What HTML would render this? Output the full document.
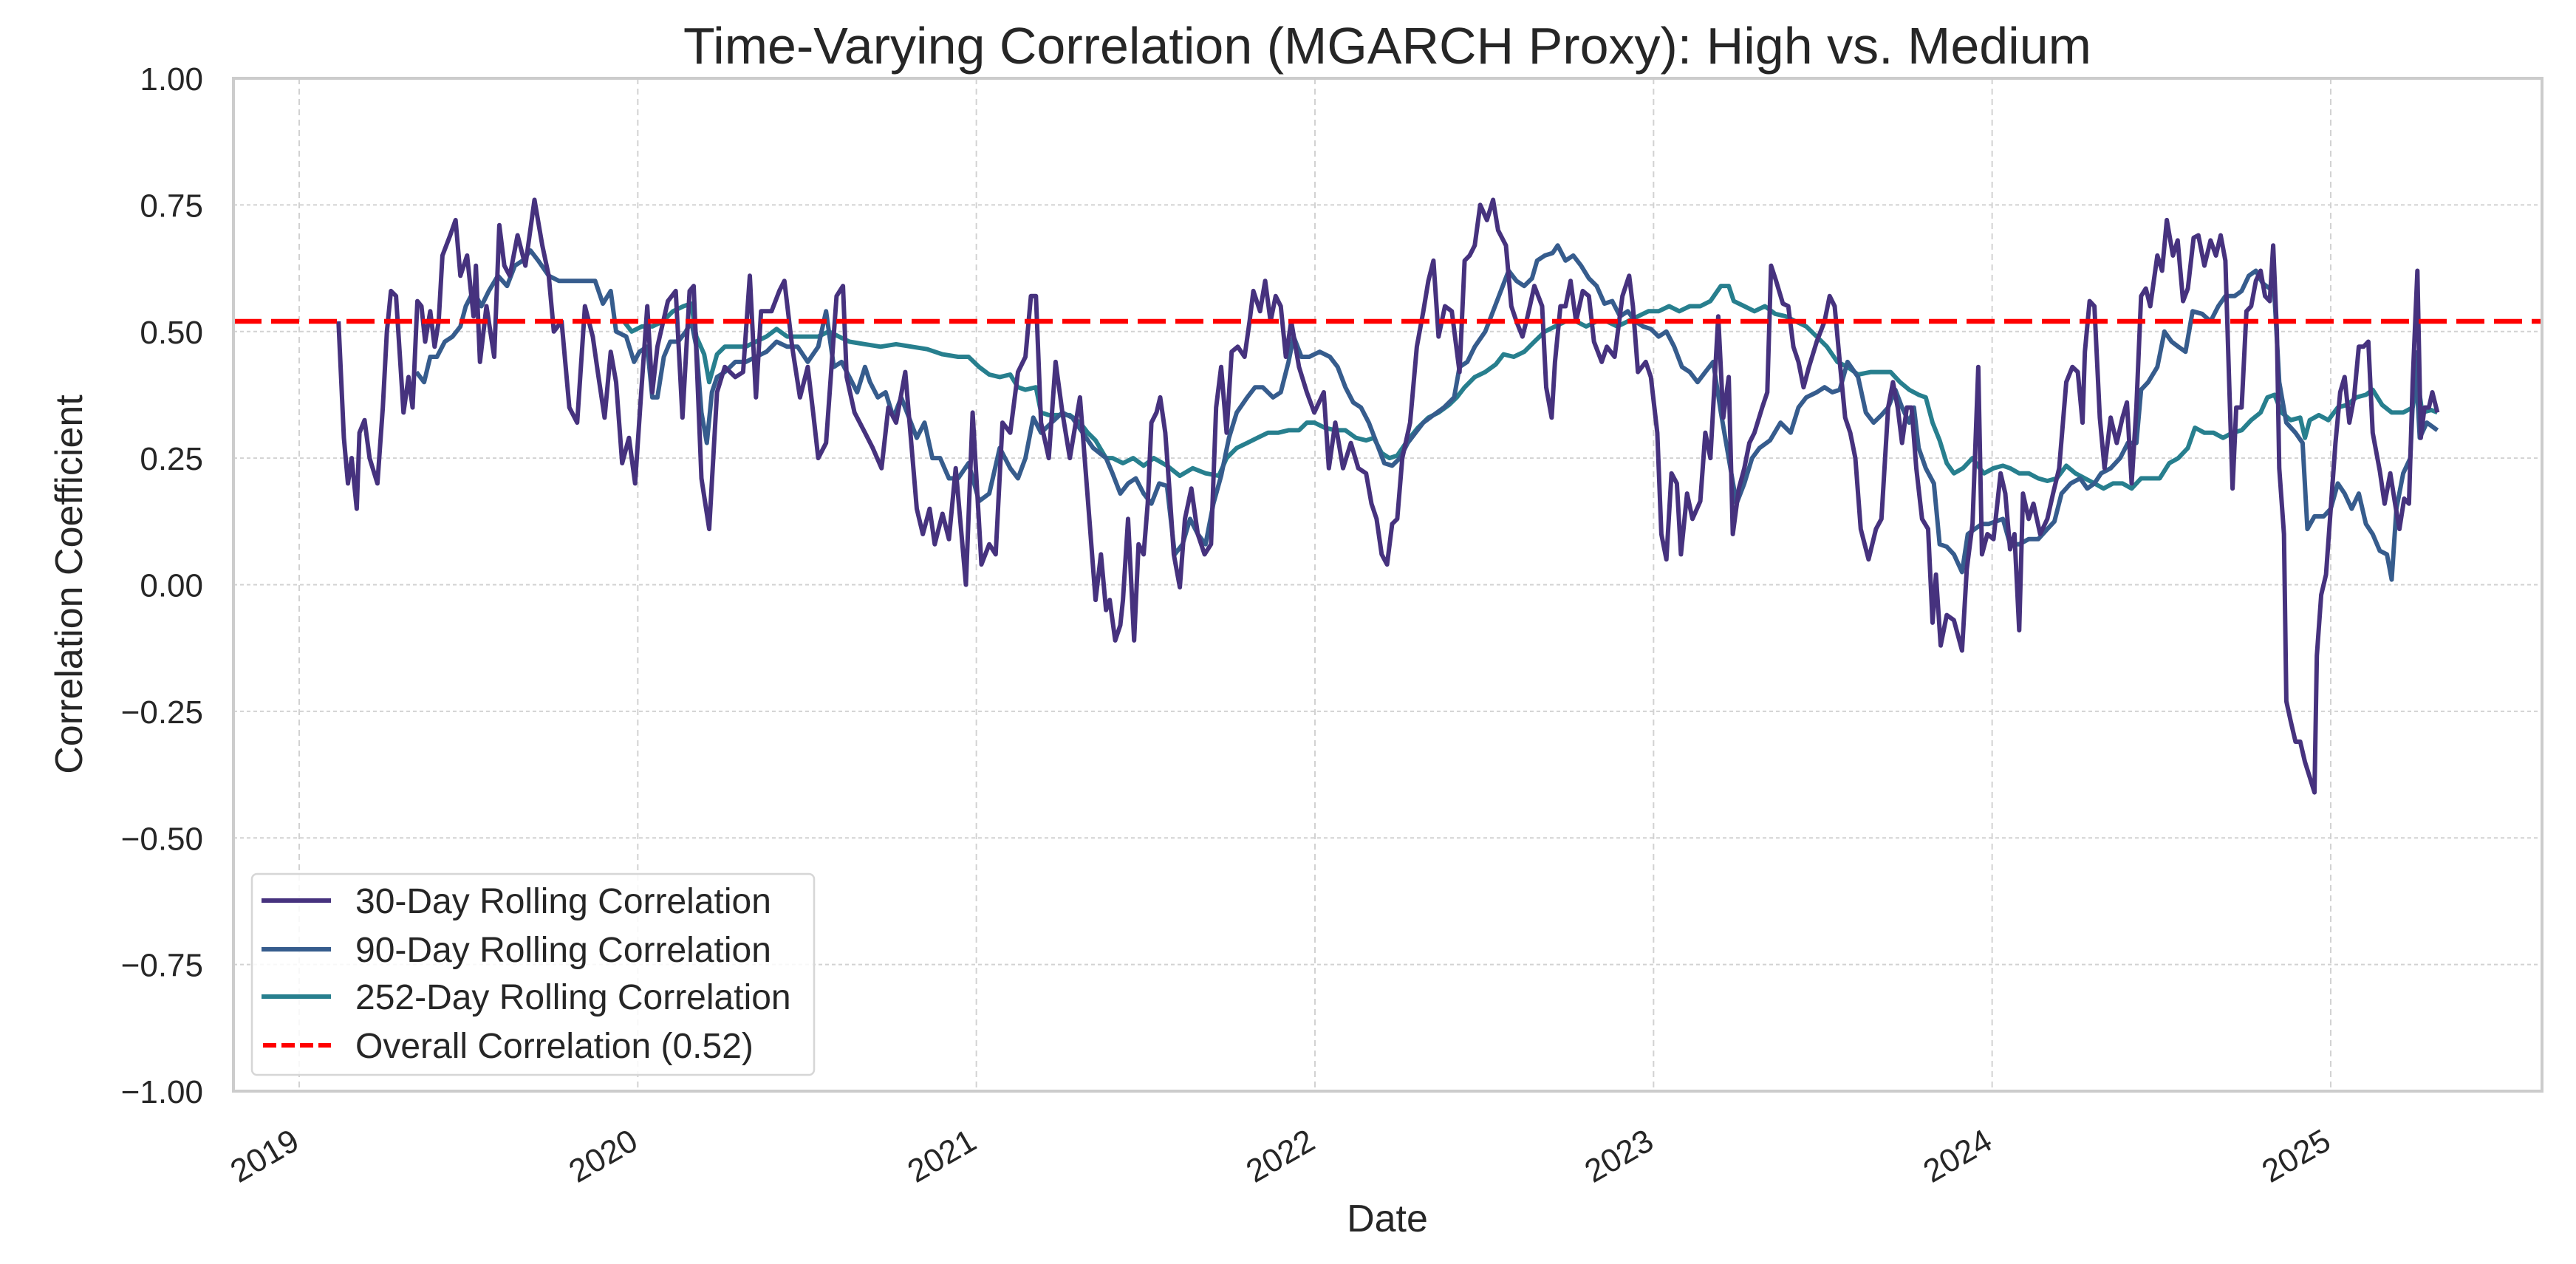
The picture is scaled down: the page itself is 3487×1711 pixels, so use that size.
<!DOCTYPE html>
<html><head><meta charset="utf-8">
<style>
html,body{margin:0;padding:0;background:#fff;}
svg{display:block;font-family:"Liberation Sans","DejaVu Sans",sans-serif;}
</style></head>
<body>
<svg id="chart" width="3487" height="1711" viewBox="0 0 3487 1711" xmlns="http://www.w3.org/2000/svg">
<rect x="0" y="0" width="3487" height="1711" fill="#ffffff"/>
<text x="1878" y="86" text-anchor="middle" font-size="70" fill="#262626">Time-Varying Correlation (MGARCH Proxy): High vs. Medium</text>
<g id="grid"></g>
<g id="yticks"></g>
<g id="xticks"></g>
<g id="series"></g>
<rect x="316" y="106" width="3125" height="1371" fill="none" stroke="#cccccc" stroke-width="4"/>
<text transform="translate(111,791) rotate(-90)" text-anchor="middle" font-size="52" fill="#262626">Correlation Coefficient</text>
<text x="1878" y="1667" text-anchor="middle" font-size="52" fill="#262626">Date</text>
<g>
<rect x="341" y="1183" width="761" height="272" rx="7" fill="#ffffff" fill-opacity="0.85" stroke="#d6d6d6" stroke-width="2.5"/>
<g>
<line x1="354" y1="1219" x2="448" y2="1219" stroke="#46327e" stroke-width="6"/>
<text x="481" y="1236" font-size="48" fill="#262626">30-Day Rolling Correlation</text></g>
<g>
<line x1="354" y1="1285" x2="448" y2="1285" stroke="#365c8d" stroke-width="6"/>
<text x="481" y="1302" font-size="48" fill="#262626">90-Day Rolling Correlation</text></g>
<g>
<line x1="354" y1="1349" x2="448" y2="1349" stroke="#277f8e" stroke-width="6"/>
<text x="481" y="1366" font-size="48" fill="#262626">252-Day Rolling Correlation</text></g>
<g>
<line x1="356" y1="1415" x2="448" y2="1415" stroke="#ff0000" stroke-width="6" stroke-dasharray="18,7"/>
<text x="481" y="1432" font-size="48" fill="#262626">Overall Correlation (0.52)</text></g>
</g>
</svg>
<script>
// Time values are years elapsed since 2019-01-01
const yTickValues = [1.00, 0.75, 0.50, 0.25, 0.00, -0.25, -0.50, -0.75, -1.00];
const yTickLabels = ["1.00","0.75","0.50","0.25","0.00","\u22120.25","\u22120.50","\u22120.75","\u22121.00"];
const xTickYears = [0,1,2,3,4,5,6];
const xTickLabels = ["2019","2020","2021","2022","2023","2024","2025"];
const overallCorr = 0.52;

const t30 = [0.116,0.132,0.144,0.155,0.170,0.178,0.193,0.208,0.231,0.247,0.259,0.271,0.286,0.308,0.323,0.335,0.349,0.361,0.372,0.387,0.400,0.412,0.423,0.446,0.462,0.476,0.496,0.515,0.522,0.534,0.553,0.576,0.591,0.606,0.622,0.645,0.668,0.695,0.718,0.737,0.752,0.775,0.798,0.821,0.844,0.867,0.882,0.902,0.920,0.936,0.954,0.974,0.992,1.009,1.028,1.043,1.058,1.089,1.112,1.132,1.153,1.165,1.188,1.211,1.234,1.257,1.288,1.311,1.331,1.349,1.364,1.395,1.418,1.433,1.456,1.479,1.502,1.518,1.533,1.556,1.587,1.606,1.617,1.640,1.671,1.694,1.720,1.740,1.763,1.790,1.809,1.824,1.842,1.862,1.877,1.900,1.919,1.939,1.969,1.989,2.015,2.038,2.057,2.077,2.100,2.123,2.145,2.161,2.176,2.191,2.214,2.234,2.254,2.276,2.306,2.329,2.352,2.368,2.383,
2.394,2.410,2.425,2.433,2.448,2.466,2.479,2.494,2.506,2.517,2.532,2.543,2.558,2.570,2.583,2.601,2.616,2.635,2.654,2.674,2.693,2.708,2.723,2.739,2.754,2.772,2.792,2.807,2.818,2.838,2.853,2.869,2.884,2.899,2.914,2.930,2.953,2.976,2.998,3.026,3.041,3.060,3.083,3.106,3.128,3.151,3.167,3.182,3.197,3.213,3.228,3.243,3.258,3.281,3.301,3.320,3.335,3.350,3.365,3.384,3.404,3.427,3.442,3.457,3.472,3.488,3.508,3.526,3.541,3.564,3.580,3.595,3.613,3.628,3.648,3.671,3.683,3.699,3.709,3.725,3.740,3.755,3.771,3.791,3.809,3.824,3.847,3.862,3.885,3.908,3.928,3.939,3.954,3.977,3.992,4.011,4.023,4.038,4.053,4.069,4.081,4.099,4.115,4.138,4.153,4.168,4.191,4.206,4.222,4.234,4.252,4.268,4.283,4.298,4.321,4.336,4.347,4.362,4.382,4.398,4.413,4.428,4.443,4.459,4.482,4.505,4.520,4.535,4.550,4.566,4.581,4.596,4.612,4.635,4.657,4.673,
4.693,4.707,4.721,4.734,4.748,4.762,4.776,4.793,4.811,4.824,4.834,4.848,4.866,4.887,4.911,4.925,4.942,4.959,4.970,4.986,5.004,5.025,5.039,5.053,5.066,5.080,5.091,5.108,5.122,5.142,5.163,5.180,5.198,5.219,5.237,5.253,5.267,5.274,5.288,5.302,5.318,5.332,5.350,5.368,5.385,5.398,5.412,5.426,5.440,5.454,5.467,5.488,5.502,5.516,5.534,5.548,5.564,5.578,5.595,5.609,5.627,5.645,5.661,5.675,5.689,5.700,5.710,5.721,5.737,5.751,5.765,5.779,5.793,5.806,5.820,5.830,5.841,5.848,5.862,5.869,5.882,5.896,5.910,5.924,5.938,5.952,5.959,5.972,5.986,6.000,6.014,6.028,6.041,6.055,6.069,6.083,6.097,6.111,6.124,6.145,6.159,6.176,6.190,6.203,6.217,6.231,6.242,6.256,6.266,6.277,6.290,6.300,6.315];
const v30 = [0.52,0.29,0.20,0.25,0.15,0.30,0.325,0.25,0.20,0.35,0.50,0.58,0.57,0.34,0.41,0.35,0.56,0.55,0.48,0.54,0.47,0.52,0.65,0.69,0.72,0.61,0.65,0.53,0.63,0.44,0.55,0.45,0.71,0.63,0.61,0.69,0.63,0.76,0.67,0.61,0.50,0.52,0.35,0.32,0.55,0.49,0.42,0.33,0.46,0.40,0.24,0.29,0.20,0.37,0.55,0.38,0.47,0.56,0.58,0.33,0.58,0.59,0.21,0.11,0.38,0.43,0.41,0.42,0.61,0.37,0.54,0.54,0.58,0.60,0.47,0.37,0.43,0.34,0.25,0.28,0.57,0.59,0.41,0.34,0.30,0.27,0.23,0.35,0.32,0.42,0.27,0.15,0.10,0.15,0.08,0.14,0.09,0.23,0.00,0.34,0.04,0.08,0.06,0.32,0.30,0.42,0.45,0.57,0.57,0.32,0.25,0.44,0.34,0.25,0.37,0.17,-0.03,0.06,-0.05,
-0.03,-0.11,-0.08,-0.03,0.13,-0.11,0.08,0.06,0.16,0.32,0.34,0.37,0.30,0.19,0.06,-0.005,0.13,0.19,0.10,0.06,0.08,0.35,0.43,0.30,0.46,0.47,0.45,0.52,0.58,0.54,0.60,0.52,0.57,0.55,0.45,0.52,0.43,0.38,0.34,0.38,0.23,0.32,0.23,0.28,0.23,0.22,0.16,0.13,0.06,0.04,0.12,0.13,0.25,0.32,0.47,0.54,0.60,0.64,0.49,0.55,0.54,0.42,0.64,0.65,0.67,0.75,0.72,0.76,0.70,0.67,0.55,0.52,0.49,0.53,0.59,0.55,0.39,0.33,0.44,0.55,0.55,0.60,0.52,0.58,0.57,0.48,0.44,0.47,0.45,0.57,0.61,0.55,0.42,0.44,0.41,0.30,0.10,0.05,0.22,0.20,0.06,0.18,0.13,0.165,0.30,0.25,0.53,0.33,0.41,0.10,0.19,0.23,0.28,0.30,0.35,0.38,0.63,0.60,0.555,0.55,0.47,0.44,0.39,0.43,0.48,0.52,0.57,0.55,0.44,0.33,0.30,0.25,0.11,0.05,0.11,0.13,
0.35,0.40,0.35,0.28,0.35,0.35,0.23,0.13,0.11,-0.075,0.02,-0.12,-0.06,-0.07,-0.13,0.03,0.12,0.43,0.06,0.10,0.09,0.22,0.18,0.07,0.10,-0.09,0.18,0.13,0.16,0.10,0.13,0.18,0.23,0.40,0.43,0.42,0.32,0.46,0.56,0.55,0.33,0.23,0.33,0.28,0.33,0.36,0.20,0.35,0.57,0.585,0.55,0.65,0.62,0.72,0.65,0.68,0.56,0.585,0.685,0.69,0.63,0.68,0.65,0.69,0.64,0.40,0.19,0.35,0.35,0.54,0.55,0.60,0.62,0.57,0.56,0.67,0.50,0.23,0.10,-0.23,-0.27,-0.31,-0.31,-0.35,-0.38,-0.41,-0.14,-0.02,0.02,0.15,0.28,0.38,0.41,0.32,0.37,0.47,0.47,0.48,0.30,0.225,0.16,0.22,0.16,0.11,0.17,0.16,0.40,0.62,0.29,0.35,0.35,0.38,0.34];

const t90 = [0.346,0.369,0.387,0.407,0.430,0.453,0.476,0.492,0.515,0.538,0.560,0.587,0.614,0.637,0.660,0.683,0.706,0.737,0.767,0.798,0.844,0.874,0.897,0.920,0.936,0.966,0.989,1.005,1.028,1.043,1.058,1.077,1.096,1.119,1.142,1.158,1.173,1.188,1.204,1.219,1.234,1.257,1.288,1.319,1.349,1.380,1.410,1.441,1.472,1.502,1.533,1.556,1.579,1.602,1.625,1.648,1.671,1.686,1.709,1.732,1.755,1.778,1.801,1.824,1.847,1.870,1.893,1.919,1.946,1.977,2.008,2.038,2.069,2.100,2.123,2.145,2.168,2.191,2.222,2.254,2.283,2.314,2.345,2.383,
2.402,2.425,2.448,2.471,2.494,2.517,2.540,2.563,2.586,2.609,2.631,2.654,2.677,2.700,2.723,2.746,2.769,2.800,2.823,2.846,2.876,2.899,2.922,2.937,2.960,2.983,3.014,3.044,3.067,3.090,3.113,3.136,3.159,3.182,3.205,3.228,3.251,3.274,3.297,3.320,3.350,3.381,3.411,3.427,3.450,3.472,3.503,3.526,3.549,3.572,3.595,3.618,3.641,3.656,3.679,3.702,3.717,3.740,3.763,3.786,3.809,3.832,3.855,3.878,3.901,3.924,3.946,3.969,3.992,4.015,4.038,4.061,4.084,4.107,4.130,4.153,4.176,4.199,4.222,4.245,4.268,4.291,4.313,4.344,4.375,4.405,4.428,4.451,4.482,4.505,4.528,4.550,4.573,4.604,4.627,4.650,4.673,
4.693,4.714,4.734,4.755,4.769,4.783,4.804,4.828,4.845,4.866,4.887,4.911,4.928,4.949,4.970,4.990,5.011,5.032,5.053,5.080,5.108,5.136,5.163,5.184,5.205,5.232,5.260,5.281,5.302,5.322,5.350,5.378,5.401,5.426,5.440,5.461,5.488,5.509,5.530,5.550,5.571,5.592,5.620,5.645,5.668,5.689,5.716,5.737,5.758,5.779,5.799,5.820,5.834,5.848,5.869,5.896,5.917,5.931,5.952,5.979,6.000,6.021,6.041,6.062,6.083,6.104,6.124,6.145,6.166,6.180,6.194,6.214,6.235,6.249,6.263,6.284,6.315];
const v90 = [0.42,0.40,0.45,0.45,0.48,0.49,0.51,0.55,0.58,0.55,0.58,0.61,0.59,0.63,0.64,0.66,0.64,0.61,0.60,0.60,0.60,0.60,0.555,0.58,0.50,0.49,0.44,0.46,0.47,0.37,0.37,0.45,0.48,0.48,0.50,0.52,0.47,0.34,0.28,0.38,0.41,0.42,0.44,0.44,0.45,0.46,0.48,0.47,0.47,0.44,0.47,0.54,0.43,0.44,0.41,0.38,0.43,0.40,0.37,0.38,0.33,0.37,0.33,0.29,0.32,0.25,0.25,0.21,0.21,0.24,0.165,0.18,0.27,0.23,0.21,0.25,0.33,0.30,0.32,0.34,0.33,0.30,0.27,0.25,
0.22,0.18,0.20,0.21,0.18,0.16,0.20,0.195,0.06,0.08,0.13,0.10,0.08,0.16,0.215,0.29,0.34,0.37,0.39,0.39,0.37,0.38,0.44,0.49,0.45,0.45,0.46,0.45,0.43,0.39,0.36,0.35,0.32,0.28,0.24,0.235,0.25,0.28,0.30,0.32,0.335,0.35,0.37,0.43,0.44,0.47,0.50,0.54,0.58,0.62,0.60,0.59,0.605,0.64,0.65,0.655,0.67,0.64,0.65,0.63,0.605,0.59,0.555,0.56,0.53,0.54,0.52,0.51,0.505,0.49,0.50,0.47,0.43,0.42,0.40,0.42,0.44,0.34,0.25,0.16,0.20,0.25,0.27,0.285,0.32,0.30,0.35,0.37,0.38,0.39,0.38,0.385,0.44,0.41,0.34,0.32,0.335,
0.35,0.385,0.35,0.32,0.35,0.27,0.23,0.20,0.08,0.075,0.06,0.025,0.10,0.11,0.12,0.12,0.125,0.13,0.08,0.08,0.09,0.09,0.11,0.125,0.18,0.20,0.21,0.19,0.20,0.22,0.23,0.25,0.28,0.28,0.385,0.40,0.43,0.50,0.48,0.47,0.46,0.54,0.535,0.52,0.55,0.57,0.57,0.58,0.61,0.62,0.595,0.585,0.57,0.40,0.32,0.30,0.28,0.11,0.135,0.135,0.15,0.20,0.18,0.15,0.18,0.12,0.10,0.067,0.06,0.01,0.15,0.22,0.25,0.46,0.29,0.32,0.305];

const t252 = [0.959,0.982,1.012,1.043,1.074,1.104,1.135,1.158,1.173,1.196,1.211,1.234,1.257,1.288,1.319,1.349,1.380,1.410,1.441,1.472,1.502,1.533,1.564,1.594,1.625,1.671,1.717,1.763,1.809,1.855,1.900,1.946,1.977,2.008,2.038,2.069,2.100,2.123,2.145,2.176,2.191,2.214,2.245,2.276,2.306,2.329,2.352,2.383,
2.402,2.433,2.463,2.494,2.524,2.563,2.601,2.639,2.677,2.716,2.739,2.769,2.800,2.830,2.861,2.891,2.922,2.953,2.976,2.998,3.029,3.060,3.090,3.121,3.151,3.174,3.197,3.220,3.243,3.274,3.304,3.335,3.365,3.396,3.419,3.442,3.472,3.503,3.534,3.557,3.587,3.618,3.648,3.679,3.709,3.740,3.771,3.801,3.832,3.862,3.893,3.924,3.954,3.985,4.015,4.046,4.076,4.107,4.138,4.168,4.199,4.222,4.237,4.268,4.298,4.329,4.359,4.390,4.420,4.451,4.482,4.512,4.543,4.573,4.604,4.642,4.673,
4.700,4.728,4.755,4.783,4.804,4.824,4.845,4.866,4.887,4.914,4.942,4.963,4.976,5.004,5.032,5.053,5.080,5.108,5.136,5.163,5.191,5.219,5.246,5.274,5.302,5.329,5.357,5.385,5.412,5.440,5.467,5.495,5.523,5.550,5.578,5.599,5.627,5.654,5.682,5.710,5.737,5.765,5.793,5.813,5.834,5.855,5.882,5.910,5.924,5.938,5.965,5.993,6.021,6.048,6.076,6.104,6.124,6.152,6.180,6.214,6.242,6.256,6.270,6.297,6.315];
const v252 = [0.52,0.50,0.51,0.51,0.52,0.54,0.55,0.555,0.49,0.455,0.40,0.455,0.47,0.47,0.47,0.48,0.49,0.505,0.49,0.49,0.49,0.49,0.50,0.49,0.48,0.475,0.47,0.475,0.47,0.465,0.455,0.45,0.45,0.43,0.415,0.41,0.415,0.39,0.385,0.39,0.34,0.335,0.335,0.335,0.32,0.30,0.285,0.25,
0.25,0.24,0.25,0.235,0.25,0.235,0.215,0.23,0.22,0.215,0.25,0.27,0.28,0.29,0.30,0.30,0.305,0.305,0.32,0.32,0.31,0.305,0.305,0.29,0.285,0.29,0.26,0.25,0.255,0.285,0.31,0.33,0.34,0.355,0.37,0.39,0.41,0.42,0.435,0.455,0.45,0.46,0.48,0.50,0.51,0.52,0.52,0.51,0.52,0.52,0.51,0.52,0.53,0.54,0.54,0.55,0.54,0.55,0.55,0.56,0.59,0.59,0.56,0.55,0.54,0.55,0.535,0.53,0.52,0.51,0.49,0.47,0.44,0.43,0.415,0.42,0.42,
0.42,0.40,0.385,0.375,0.37,0.32,0.285,0.24,0.22,0.23,0.25,0.23,0.22,0.23,0.235,0.23,0.22,0.22,0.21,0.205,0.21,0.235,0.22,0.21,0.20,0.19,0.20,0.20,0.19,0.21,0.21,0.21,0.24,0.25,0.27,0.31,0.30,0.30,0.29,0.30,0.305,0.325,0.34,0.37,0.375,0.34,0.325,0.33,0.29,0.325,0.335,0.325,0.35,0.355,0.37,0.375,0.385,0.355,0.34,0.34,0.35,0.41,0.34,0.345,0.34];

const NS = "http://www.w3.org/2000/svg";
const plotL = 316, plotR = 3441, plotT = 106, plotB = 1477;
const x0 = 405, pxPerYear = 458.33;
function xScale(t){ return x0 + t * pxPerYear; }
function yScale(v){ return plotT + (1 - v) / 2 * (plotB - plotT); }
function mk(tag, attrs){ const e = document.createElementNS(NS, tag); for (const k in attrs) e.setAttribute(k, attrs[k]); return e; }

const grid = document.getElementById('grid');
const yt = document.getElementById('yticks');
const xt = document.getElementById('xticks');
const series = document.getElementById('series');

yTickValues.forEach((v, i) => {
  const y = yScale(v);
  const g = mk('line', {x1: plotL, x2: plotR, y1: y, y2: y, stroke: '#d2d2d2', 'stroke-width': 2, 'stroke-dasharray': '5,4'});
  
  
  grid.appendChild(g);
  const tx = mk('text', {x: 275, y: y + 16, 'text-anchor': 'end', 'font-size': 44, fill: '#262626'});
  tx.textContent = yTickLabels[i];
  
  
  yt.appendChild(tx);
});

xTickYears.forEach((t, i) => {
  const x = xScale(t);
  const g = mk('line', {x1: x, x2: x, y1: plotT, y2: plotB, stroke: '#d2d2d2', 'stroke-width': 2, 'stroke-dasharray': '8,6'});
  
  
  grid.appendChild(g);
  const tx = mk('text', {transform: 'translate(' + (x + 3) + ',' + 1553 + ') rotate(-30)', 'text-anchor': 'end', 'font-size': 44, fill: '#262626'});
  tx.textContent = xTickLabels[i];
  
  
  xt.appendChild(tx);
});

function drawSeries(ts, vs, color, name){
  let d = '';
  for (let i = 0; i < ts.length; i++) d += (i ? 'L' : 'M') + xScale(ts[i]).toFixed(1) + ',' + yScale(vs[i]).toFixed(1);
  const p = mk('path', {d: d, fill: 'none', stroke: color, 'stroke-width': 6, 'stroke-linejoin': 'round'});
  
  
  series.appendChild(p);
}
drawSeries(t252, v252, '#277f8e', 'line-252day');
drawSeries(t90, v90, '#365c8d', 'line-90day');
drawSeries(t30, v30, '#46327e', 'line-30day');

const ov = mk('line', {x1: plotL, x2: plotR, y1: yScale(overallCorr), y2: yScale(overallCorr), stroke: '#ff0000', 'stroke-width': 6.5, 'stroke-dasharray': '38,13'});


series.appendChild(ov);
</script>
</body></html>
